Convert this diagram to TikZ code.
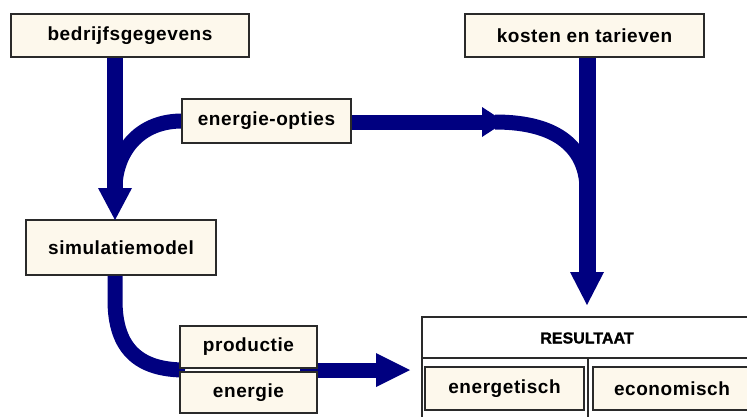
\documentclass[tikz,border=0pt]{standalone}
\usepackage{fontspec}
\setmainfont{Liberation Sans}
\definecolor{navy}{HTML}{000080}
\definecolor{cream}{HTML}{FDF8EC}
\definecolor{edge}{HTML}{2A2A2A}
\begin{document}
\begin{tikzpicture}[x=1pt,y=-1pt,
  box/.style={draw=edge,line width=1.6pt,fill=cream,inner sep=0pt,
     font=\fontsize{19}{22}\selectfont\bfseries\addfontfeature{LetterSpace=3}},
  flow/.style={draw=navy,line width=16pt},
  head/.style={fill=navy,draw=none}]
\useasboundingbox (0,0) rectangle (747,416);
\clip (0,0) rectangle (747,416);
% nodes
\node[box,minimum width=238pt,minimum height=43pt] (bed) at (130,35.5) {bedrijfsgegevens};
\node[box,minimum width=239pt,minimum height=43pt] (kost) at (584.5,35.5) {kosten en tarieven};
\node[box,minimum width=190pt,minimum height=55pt] (sim) at (121,247.5) {simulatiemodel};
% coordinates for connectors
\coordinate (bj) at (115,185);
\coordinate (kj) at (587,190);
\coordinate (ah1) at (115,220);
\coordinate (ah2) at (587,305);
\coordinate (ah3) at (410,370);
\coordinate (ah4) at (505,122);
% arrows (drawn beneath boxes)
\draw[flow] (bed.south -| bj) -- (115,190);
\fill[head] (98,188) -- (132,188) -- (ah1) -- cycle;
\draw[flow,line width=15pt] (182,121) .. controls (140,121) and (117,150) .. (bj);
\draw[flow,line width=15pt] (351,122) -- (488,122);
\fill[head] (482,107) -- (482,137) -- (ah4) -- cycle;
\draw[flow,line width=15pt] (495,122) .. controls (560,122) and (587,150) .. (kj);
\draw[flow,line width=17pt] (kost.south -| kj) -- (587,275);
\fill[head] (570,272) -- (604,272) -- (ah2) -- cycle;
\draw[flow,line width=15pt] (sim.south -| bj) -- (115,300) .. controls (115,350) and (140,370) .. (185,370);
\draw[flow,line width=15pt] (300,370) -- (380,370);
\fill[head] (376,353) -- (376,387) -- (ah3) -- cycle;
% boxes on top
\node[box,minimum width=169pt,minimum height=44pt] (opt) at (266.5,121) {energie-opties};
\node[box,minimum width=137pt,minimum height=42pt] (prod) at (248.5,347) {productie};
\node[box,minimum width=137pt,minimum height=41pt] (ener) at (248.5,392.5) {energie};
% result panel
\draw[edge,line width=1.8pt,fill=white] (422,317) rectangle (770,440);
\draw[edge,line width=1.6pt] (422,358) -- (770,358);
\draw[edge,line width=1.2pt] (588,358) -- (588,440);
\node[font=\fontsize{16}{18}\selectfont\bfseries\addfontfeature{FakeBold=1.2}] (res) at (587,338) {RESULTAAT};
\node[box,minimum width=159pt,minimum height=43pt] (energ) at (504.5,388.5) {energetisch};
\node[box,minimum width=158pt,minimum height=43pt] (econ) at (672,388.5) {economisch};
\end{tikzpicture}
\end{document}
